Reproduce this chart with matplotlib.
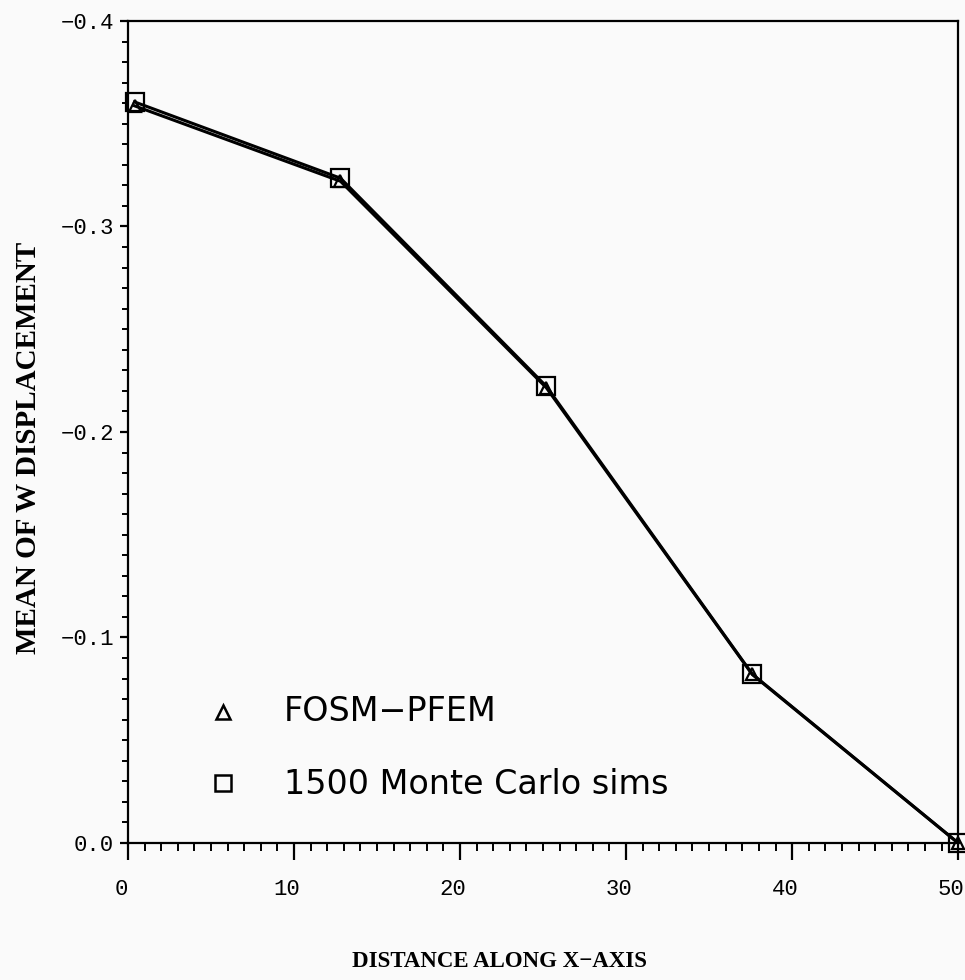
import numpy as np
import matplotlib.pyplot as plt
from matplotlib.ticker import MultipleLocator
from matplotlib.transforms import ScaledTranslation

# 節点位置と平均たわみ
x_pos = [0.4, 12.8, 25.2, 37.6, 50.0]
w_fosm = [-0.3587, -0.3220, -0.2215, -0.0820, 0.0]
w_mc = [-0.3606, -0.3235, -0.2222, -0.0822, 0.0]

labels = ["FOSM\u2212PFEM", "1500 Monte Carlo sims"]

BG = "#fafafa"
TICK_FONT = "Liberation Mono"
LABEL_FONT = "Liberation Serif"


def main():
    fig = plt.figure(figsize=(9.65, 9.8), dpi=100, facecolor=BG)
    ax = fig.add_axes([0.1326, 0.1398, 0.8603, 0.8388], facecolor=BG)

    ax.plot(x_pos, w_fosm, color="black", linewidth=2.2, marker="^",
            markersize=9, markerfacecolor="none", markeredgewidth=1.6, clip_on=False)
    ax.plot(x_pos, w_mc, color="black", linewidth=2.2, marker="s",
            markersize=13, markerfacecolor="none", markeredgewidth=1.6, clip_on=False)

    ax.set_xlim(0, 50)
    ax.set_ylim(0.0, -0.4)

    ax.xaxis.set_major_locator(MultipleLocator(10))
    ax.xaxis.set_minor_locator(MultipleLocator(1))
    ax.yaxis.set_major_locator(MultipleLocator(0.1))
    ax.yaxis.set_minor_locator(MultipleLocator(0.01))

    ax.tick_params(axis="x", which="major", length=12, width=1.6, pad=14)
    ax.tick_params(axis="x", which="minor", length=6, width=1.4)
    ax.tick_params(axis="y", which="major", length=6, width=1.6, pad=4)
    ax.tick_params(axis="y", which="minor", length=4, width=1.4)

    ax.set_xticklabels([f"{int(v)}" for v in ax.get_xticks()])
    ax.set_yticklabels([f"{v:.1f}".replace("-", "\u2212").replace("\u22120.0", "0.0")
                        for v in ax.get_yticks()])
    # x 目盛りラベルは少し左へずらす
    shift = ScaledTranslation(-5 / 72, 0, fig.dpi_scale_trans)
    for lab in ax.get_xticklabels():
        lab.set_transform(lab.get_transform() + shift)
    for lab in ax.get_xticklabels() + ax.get_yticklabels():
        lab.set_fontfamily(TICK_FONT)
        lab.set_fontsize(16)

    for s in ax.spines.values():
        s.set_linewidth(1.6)

    ax.set_xlabel("DISTANCE ALONG X\u2212AXIS", fontfamily=LABEL_FONT,
                  fontweight="bold", fontsize=16.5)
    ax.xaxis.set_label_coords(0.448, -0.131)
    ax.set_ylabel("MEAN OF W DISPLACEMENT", fontfamily=LABEL_FONT,
                  fontweight="bold", fontsize=21)
    ax.yaxis.set_label_coords(-0.104, 0.4805)

    # 凡例 (手描き)
    ax.plot([5.7], [-0.0635], marker="^", markersize=10, color="black",
            markerfacecolor="none", markeredgewidth=1.8, linestyle="none")
    ax.plot([5.7], [-0.0290], marker="s", markersize=11, color="black",
            markerfacecolor="none", markeredgewidth=1.8, linestyle="none")
    ax.text(9.4, -0.0640, labels[0], fontfamily="DejaVu Sans", fontsize=24,
            va="center", ha="left")
    ax.text(9.4, -0.0285, labels[1], fontfamily="DejaVu Sans", fontsize=24,
            va="center", ha="left")

    plt.savefig("out.png", dpi=100, facecolor=BG)


if __name__ == "__main__":
    main()
